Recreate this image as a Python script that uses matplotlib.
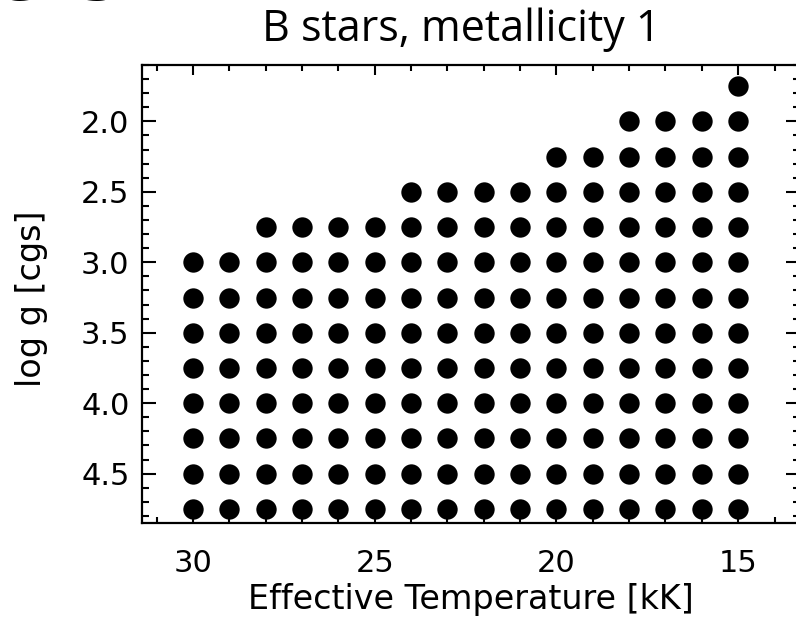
import matplotlib
matplotlib.use("Agg")
import matplotlib.pyplot as plt
from matplotlib.ticker import MultipleLocator, FormatStrFormatter

# Data: effective temperature grid (kK) and minimum log g per column
temps = [30, 29, 28, 27, 26, 25, 24, 23, 22, 21, 20, 19, 18, 17, 16, 15]
min_logg = [3.0, 3.0, 2.75, 2.75, 2.75, 2.75, 2.5, 2.5, 2.5, 2.5, 2.25, 2.25, 2.0, 2.0, 2.0, 1.75]
max_logg = 4.75
logg_step = 0.25

title = "B stars, metallicity 1"
xlabel = "Effective Temperature [kK]"
ylabel = "log g [cgs]"

xs, ys = [], []
for t, gmin in zip(temps, min_logg):
    g = gmin
    while g <= max_logg + 1e-9:
        xs.append(t)
        ys.append(g)
        g += logg_step

W, H = 796, 622
fig = plt.figure(figsize=(W / 100, H / 100), dpi=100)
L, R, T, B = 142, 800, 65, 523
ax = fig.add_axes([L / W, 1 - B / H, (R - L) / W, (B - T) / H])

ax.scatter(xs, ys, s=215, c="black", linewidths=0, zorder=3, clip_on=False)

ax.set_xlim(31.4, 13.3)
ax.set_ylim(4.85, 1.6)

ax.xaxis.set_major_locator(MultipleLocator(5))
ax.xaxis.set_minor_locator(MultipleLocator(1))
ax.yaxis.set_major_locator(MultipleLocator(0.5))
ax.yaxis.set_minor_locator(MultipleLocator(0.1))
ax.yaxis.set_major_formatter(FormatStrFormatter("%.1f"))

for s in ax.spines.values():
    s.set_linewidth(1.6)

ax.tick_params(axis="both", which="both", direction="in", top=True, right=True,
               width=1.5, labelsize=22, colors="black")
ax.tick_params(axis="x", which="major", length=7, pad=19)
ax.tick_params(axis="x", which="minor", length=4)
ax.tick_params(axis="y", which="major", length=10, pad=9)
ax.tick_params(axis="y", which="minor", length=5)

ax.set_xlabel(xlabel, fontsize=24)
ax.xaxis.label.set_va("center")
ax.xaxis.set_label_coords(0.5, (B - 599) / (B - T))
ax.set_ylabel(ylabel, fontsize=24)
ax.yaxis.label.set_va("center")
ax.yaxis.set_label_coords((31 - L) / (R - L), 0.5 + (294 - 299) / (B - T))

fig.text(461 / W, 1 - 41 / H, title, fontsize=31, family=["Open Sans", "DejaVu Sans"],
         ha="center", va="baseline")

# cropped heading fragment at the top-left corner
fig.text(-5 / W, 1 - 0 / H, "ers", fontsize=50, fontweight="bold",
         ha="left", va="baseline")

fig.savefig("out.png", dpi=100)
